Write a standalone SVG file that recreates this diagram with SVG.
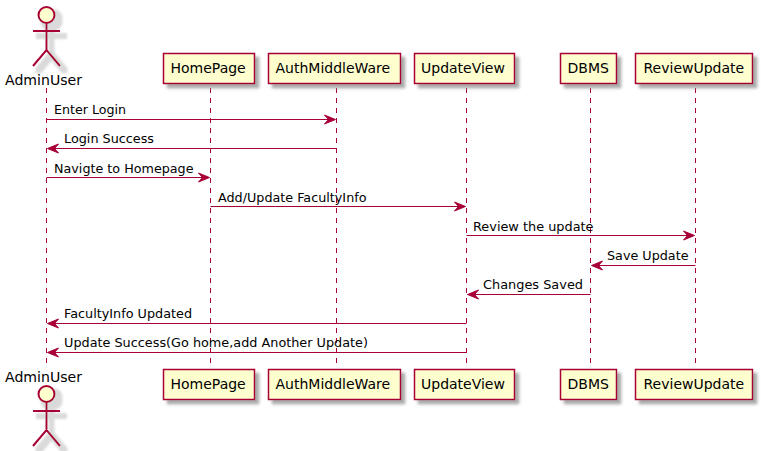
<svg xmlns="http://www.w3.org/2000/svg" width="765" height="451" viewBox="0 0 765 451">
<style>
.box{fill:#FEFECE;stroke:#A80036;stroke-width:1.5;filter:url(#sh)}
.fig{fill:none;stroke:#A80036;stroke-width:2}
.figs{filter:url(#sha)}
.head{fill:#FEFECE;stroke:#A80036;stroke-width:2}
.life{stroke:#A80036;stroke-width:1;stroke-dasharray:5,5;fill:none}
.msg{stroke:#A80036;stroke-width:1;fill:none}
.ah{fill:#A80036;stroke:#A80036;stroke-width:1}
text{font-family:"DejaVu Sans",sans-serif;fill:#000}
.n{font-size:14px}
.m{font-size:13px}
</style>
<defs>
<filter id="sh" x="-30%" y="-30%" width="170%" height="170%"><feGaussianBlur in="SourceAlpha" stdDeviation="1.7"/><feOffset dx="4" dy="4"/><feColorMatrix type="matrix" values="0 0 0 0 0.3 0 0 0 0 0.3 0 0 0 0 0.3 0 0 0 0.8 0"/><feMerge><feMergeNode/><feMergeNode in="SourceGraphic"/></feMerge></filter>
<filter id="sha" filterUnits="userSpaceOnUse" x="0" y="0" width="100" height="451"><feMorphology in="SourceAlpha" operator="dilate" radius="1.5"/><feGaussianBlur stdDeviation="1"/><feOffset dx="5" dy="5"/><feColorMatrix type="matrix" values="0 0 0 0 0.5 0 0 0 0 0.5 0 0 0 0 0.5 0 0 0 0.55 0"/><feMerge><feMergeNode/><feMergeNode in="SourceGraphic"/></feMerge></filter>
<polygon id="ar" points="-11,-4.5 0,0 -11,4.5 -7,0" class="ah"/>
<polygon id="al" points="11,-4.5 0,0 11,4.5 7,0" class="ah"/>
</defs>
<g id="lifelines">
<path class="life" d="M46.5 88V368"/><path class="life" d="M210.5 88V368"/><path class="life" d="M336.5 88V368"/><path class="life" d="M466.5 88V368"/><path class="life" d="M590.5 88V368"/><path class="life" d="M695.5 88V368"/>
</g>
<g id="actor-top"><g class="figs"><circle class="head" cx="46.5" cy="15" r="8"/><path class="fig" d="M46.5 23V50M33 31H60M33 66L46.5 50L60 66"/></g><text class="n" x="5" y="85" textLength="77" lengthAdjust="spacingAndGlyphs">AdminUser</text></g>
<g id="actor-bottom"><text class="n" x="5" y="382" textLength="77" lengthAdjust="spacingAndGlyphs">AdminUser</text><g class="figs"><circle class="head" cx="46.5" cy="394" r="8"/><path class="fig" d="M46.5 402V429M33 411H60M33 446L46.5 430L60 446"/></g></g>
<g id="homepage-top"><rect class="box" x="163.5" y="53.5" width="91" height="30"/><text class="n" x="170.5" y="73">HomePage</text></g>
<g id="auth-top"><rect class="box" x="268.5" y="53.5" width="132" height="30"/><text class="n" x="275.5" y="73">AuthMiddleWare</text></g>
<g id="updateview-top"><rect class="box" x="414.5" y="53.5" width="100" height="30"/><text class="n" x="421" y="73">UpdateView</text></g>
<g id="dbms-top"><rect class="box" x="560.5" y="53.5" width="56" height="30"/><text class="n" x="567.5" y="73">DBMS</text></g>
<g id="review-top"><rect class="box" x="635.5" y="53.5" width="117" height="30"/><text class="n" x="643.5" y="73">ReviewUpdate</text></g>
<g id="homepage-bottom"><rect class="box" x="163.5" y="369.5" width="91" height="30"/><text class="n" x="170.5" y="389">HomePage</text></g>
<g id="auth-bottom"><rect class="box" x="268.5" y="369.5" width="132" height="30"/><text class="n" x="275.5" y="389">AuthMiddleWare</text></g>
<g id="updateview-bottom"><rect class="box" x="414.5" y="369.5" width="100" height="30"/><text class="n" x="421" y="389">UpdateView</text></g>
<g id="dbms-bottom"><rect class="box" x="560.5" y="369.5" width="56" height="30"/><text class="n" x="567.5" y="389">DBMS</text></g>
<g id="review-bottom"><rect class="box" x="635.5" y="369.5" width="117" height="30"/><text class="n" x="643.5" y="389">ReviewUpdate</text></g>
<g id="connectors">
<path class="msg" d="M46.5 119.5H333"/><use href="#ar" x="335.5" y="119.5"/>
<path class="msg" d="M50 148.5H336.5"/><use href="#al" x="47.5" y="148.5"/>
<path class="msg" d="M46.5 177.5H207"/><use href="#ar" x="209.5" y="177.5"/>
<path class="msg" d="M210.5 206.5H463"/><use href="#ar" x="465.5" y="206.5"/>
<path class="msg" d="M466.5 235.5H692"/><use href="#ar" x="694.5" y="235.5"/>
<path class="msg" d="M594 265.5H695.5"/><use href="#al" x="591.5" y="265.5"/>
<path class="msg" d="M470 294.5H590.5"/><use href="#al" x="467.5" y="294.5"/>
<path class="msg" d="M50 323.5H466.5"/><use href="#al" x="47.5" y="323.5"/>
<path class="msg" d="M50 352.5H466.5"/><use href="#al" x="47.5" y="352.5"/>
</g>
<g id="labels">
<text class="m" x="54" y="114" textLength="72" lengthAdjust="spacingAndGlyphs">Enter Login</text>
<text class="m" x="64" y="143" textLength="90" lengthAdjust="spacingAndGlyphs">Login Success</text>
<text class="m" x="54" y="173" textLength="139.5" lengthAdjust="spacingAndGlyphs">Navigte to Homepage</text>
<text class="m" x="218" y="202" textLength="148.5" lengthAdjust="spacingAndGlyphs">Add/Update FacultyInfo</text>
<text class="m" x="473" y="231" textLength="120.5" lengthAdjust="spacingAndGlyphs">Review the update</text>
<text class="m" x="607" y="260" textLength="81.5" lengthAdjust="spacingAndGlyphs">Save Update</text>
<text class="m" x="483" y="289" textLength="100" lengthAdjust="spacingAndGlyphs">Changes Saved</text>
<text class="m" x="64" y="318" textLength="128" lengthAdjust="spacingAndGlyphs">FacultyInfo Updated</text>
<text class="m" x="64" y="347" textLength="304" lengthAdjust="spacingAndGlyphs">Update Success(Go home,add Another Update)</text>
</g>
</svg>
